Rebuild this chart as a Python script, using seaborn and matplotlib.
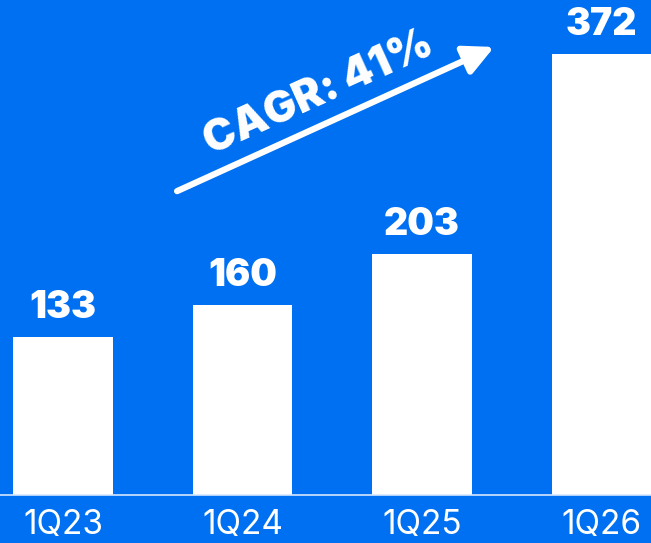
import matplotlib
matplotlib.use("Agg")
import matplotlib.pyplot as plt
import seaborn as sns
import pandas as pd

# Quarterly values
quarters = ["1Q23", "1Q24", "1Q25", "1Q26"]
values = [133, 160, 203, 372]
cagr_label = "CAGR: 41%"

BG = "#0070f2"

sns.set_theme(style="white")
plt.rcParams["font.family"] = ["Inter", "DejaVu Sans"]

df = pd.DataFrame({"quarter": quarters, "value": values})

fig = plt.figure(figsize=(6.51, 5.43), dpi=100, facecolor=BG)
ax = fig.add_axes([0.0, 0.0884, 1.0, 0.9116])
ax.set_facecolor(BG)

sns.barplot(data=df, x="quarter", y="value", color="white", saturation=1,
            width=0.556, edgecolor="none", linewidth=0, ax=ax)

ax.set_xlim(-0.351, 3.276)
ax.set_ylim(0, 417.7)

for i, v in enumerate(values):
    ax.annotate(f"{v}", xy=(i, v), xytext=(0, 8), textcoords="offset points",
                ha="center", va="bottom", color="white", fontsize=27,
                fontweight="black")

for s in ["top", "right", "left"]:
    ax.spines[s].set_visible(False)
ax.spines["bottom"].set_color("#d6e6ff")
ax.spines["bottom"].set_linewidth(1.2)

ax.set_xlabel("")
ax.set_ylabel("")
ax.set_yticks([])
ax.tick_params(axis="x", length=0, pad=10, labelsize=24, labelcolor="white")

# Growth arrow and label
ax.annotate("", xy=(0.759, 0.9135), xytext=(0.272, 0.648),
            xycoords="figure fraction", textcoords="figure fraction",
            arrowprops=dict(arrowstyle="-|>,head_length=0.9,head_width=0.45",
                            mutation_scale=20, lw=4.5, color="white",
                            shrinkA=0, shrinkB=0))
fig.text(0.489, 0.828, cagr_label, rotation=24.4, rotation_mode="anchor",
         ha="center", va="center", color="white", fontsize=31,
         fontweight="black")

fig.savefig("out.png", dpi=100, facecolor=BG)
